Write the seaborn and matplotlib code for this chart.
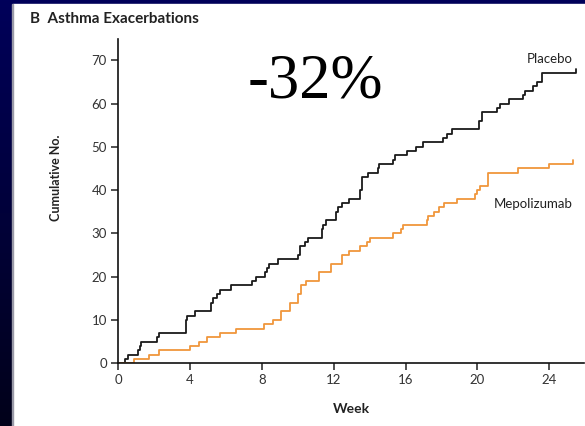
import numpy as np
import pandas as pd
import matplotlib
matplotlib.use("Agg")
import matplotlib.pyplot as plt
import seaborn as sns
from matplotlib.colors import LinearSegmentedColormap

# ---- data ----
placebo_weeks = [0, 0.40, 0.57, 1.13, 1.20, 1.30, 2.15, 2.30, 3.77, 3.82, 4.28, 5.16, 5.30,
                 5.53, 5.68, 6.29, 7.44, 7.68, 8.18, 8.27, 8.42, 8.89, 10.03, 10.13, 10.40,
                 10.59, 11.33, 11.42, 11.60, 12.13, 12.25, 12.44, 12.86, 13.47, 13.55, 13.90,
                 14.45, 14.55, 15.30, 15.40, 16.06, 16.58, 16.99, 18.10, 18.32, 18.60, 20.10,
                 20.24, 21.10, 21.26, 21.76, 22.52, 22.65, 23.10, 23.30, 23.60, 25.50]
placebo_counts = [0, 1, 2, 3, 4, 5, 6, 7, 10, 11, 12, 14, 15,
                  16, 17, 18, 19, 20, 21, 22, 23, 24, 25, 27, 28,
                  29, 31, 32, 33, 35, 36, 37, 38, 40, 43, 44,
                  45, 46, 47, 48, 49, 50, 51, 52, 53, 54, 56,
                  58, 59, 60, 61, 62, 63, 64, 65, 67, 68]

mepo_weeks = [0, 0.89, 1.74, 2.30, 4.00, 4.52, 4.94, 5.68, 6.55, 8.14, 8.60, 9.05, 9.57,
              10.03, 10.17, 10.46, 11.20, 11.83, 12.44, 12.85, 13.47, 13.87, 14.02, 15.32,
              15.73, 15.88, 17.18, 17.27, 17.58, 17.88, 18.14, 18.86, 19.87, 20.00, 20.14,
              20.60, 22.28, 24.00, 25.30]
mepo_counts = [0, 1, 2, 3, 4, 5, 6, 7, 8, 9, 10, 12, 14,
               16, 18, 19, 21, 23, 25, 26, 27, 28, 29, 30,
               31, 32, 33, 34, 35, 36, 37, 38, 39, 40, 41,
               44, 45, 46, 47]

x_ticks = [0, 4, 8, 12, 16, 20, 24]
y_ticks = [0, 10, 20, 30, 40, 50, 60, 70]
groups = ["Placebo", "Mepolizumab"]
title_text = "B  Asthma Exacerbations"
big_text = "-32%"

df = pd.concat([
    pd.DataFrame({"Week": placebo_weeks, "Count": placebo_counts, "Group": groups[0]}),
    pd.DataFrame({"Week": mepo_weeks, "Count": mepo_counts, "Group": groups[1]}),
], ignore_index=True)

sns.set_theme(style="ticks")
plt.rcParams["font.family"] = ["Lato", "DejaVu Sans"]

W, H = 585, 426
fig = plt.figure(figsize=(W / 100, H / 100), dpi=100)
fig.patch.set_facecolor("#000055")

# background: navy frame with gradient on left, white panel
bg = fig.add_axes([0, 0, 1, 1], zorder=-5)
grad = np.linspace(0, 1, 256).reshape(-1, 1)
cmap = LinearSegmentedColormap.from_list("frame", ["#00005a", "#02021a"])
bg.imshow(grad, aspect="auto", cmap=cmap, extent=[0, 1, 0, 1], origin="upper")
bg.add_patch(plt.Rectangle((13 / W, 0), 1 - 13 / W, 1 - 4 / H, color="white", transform=bg.transAxes))
bg.add_patch(plt.Rectangle((12 / W, 0), 1.2 / W, 1 - 4 / H, color="#9a9aa8", transform=bg.transAxes))
bg.set_xlim(0, 1); bg.set_ylim(0, 1)
bg.axis("off")

ax = fig.add_axes([118 / W, (H - 363.3) / H, (584 - 118) / W, (363.3 - 39) / H])
ax.set_facecolor("none")

sns.lineplot(data=df, x="Week", y="Count", hue="Group",
             palette={"Placebo": "#1a1a1a", "Mepolizumab": "#f0963c"},
             drawstyle="steps-post", linewidth=1.3, legend=False, ax=ax,
             estimator=None, sort=False)

ax.set_xlim(0, 25.93)
ax.set_ylim(0, 74.9)
ax.set_xticks(x_ticks)
ax.set_yticks(y_ticks)
ax.tick_params(axis="both", direction="out", length=5, width=1.1, color="#222222",
               labelsize=9.5, labelcolor="#333333", pad=3)
for s in ["top", "right"]:
    ax.spines[s].set_visible(False)
for s in ["left", "bottom"]:
    ax.spines[s].set_linewidth(1.2)
    ax.spines[s].set_color("#111111")

ax.set_xlabel("Week", fontsize=10, fontweight="bold", color="#222222", labelpad=12)
ax.set_ylabel("Cumulative No.", fontsize=9, fontweight="bold", color="#222222")
ax.yaxis.set_label_coords(-0.12, 0.571)

ax.text(25.32, 70.2, groups[0], ha="right", va="center", fontsize=9.5, color="#222222")
ax.text(25.32, 36.8, groups[1], ha="right", va="center", fontsize=9.5, color="#222222")

fig.text(30 / W, (H - 23) / H, title_text, ha="left", va="baseline",
         fontsize=11, fontweight="bold", color="#222222")
fig.text(248 / W, (H - 98) / H, big_text, ha="left", va="baseline",
         fontsize=45, family=["Liberation Serif", "DejaVu Serif"], color="black")

fig.savefig("out.png", dpi=100, facecolor=fig.get_facecolor())
